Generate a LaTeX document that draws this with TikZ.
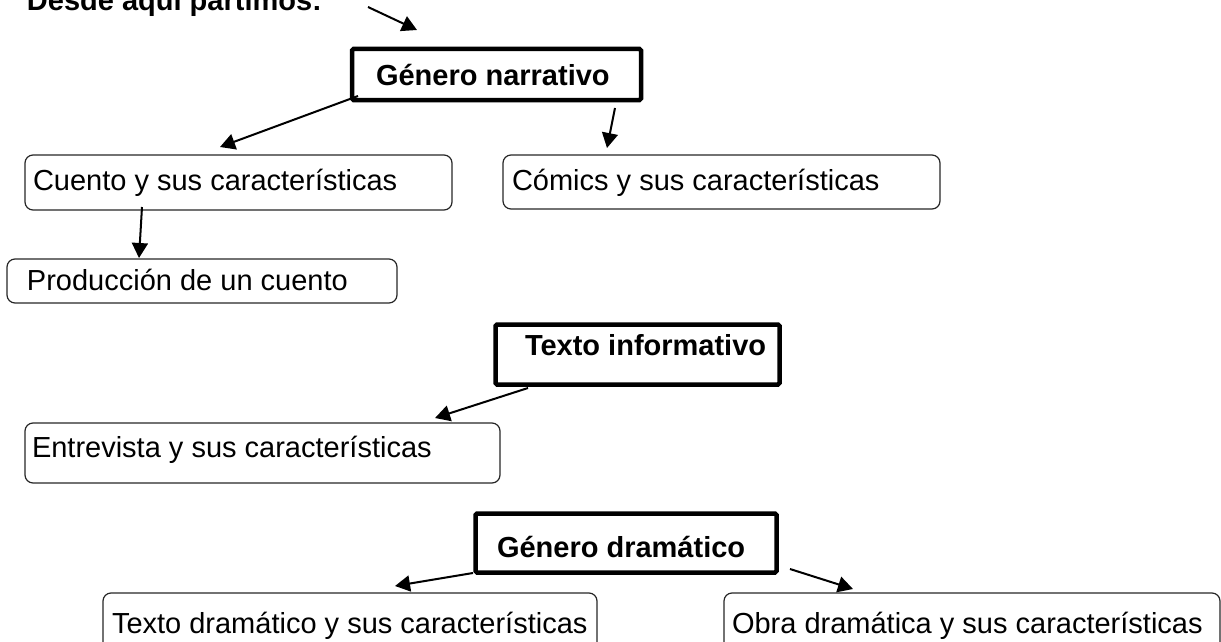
\documentclass[tikz,border=0pt]{standalone}
\usepackage{fontspec}
\setmainfont{Liberation Sans}
\usetikzlibrary{arrows.meta}
\begin{document}
\begin{tikzpicture}[x=1pt,y=-1pt,
  every node/.style={inner sep=0pt,outer sep=0pt},
  txt/.style={anchor=base west,font=\fontsize{29}{34}\selectfont},
  btxt/.style={anchor=base west,font=\fontsize{29}{34}\selectfont\bfseries},
  thickbox/.style={draw=black,line width=4.5pt,rounded corners=1.5pt,anchor=north west},
  thinbox/.style={draw=black!85,line width=1.2pt,rounded corners=8pt,anchor=north west},
  arr/.style={line width=2pt,-{Triangle[length=15pt,width=16pt]}}]
\useasboundingbox (0,0) rectangle (1221,642);
\clip (0,0) rectangle (1221,642);
% boxes
\node[thickbox,minimum width=289,minimum height=51] (gn) at (352,49) {};
\node[thickbox,minimum width=284,minimum height=60] (ti) at (495.5,324.5) {};
\node[thickbox,minimum width=301,minimum height=59] (gd) at (475.5,513.5) {};
\node[thinbox,minimum width=427,minimum height=55] (cu) at (25,155) {};
\node[thinbox,minimum width=437,minimum height=54] (co) at (503,155) {};
\node[thinbox,minimum width=390,minimum height=44] (pr) at (7,259) {};
\node[thinbox,minimum width=475,minimum height=60] (en) at (25,423) {};
\node[thinbox,minimum width=494,minimum height=70] (td) at (103,593) {};
\node[thinbox,minimum width=496,minimum height=70] (od) at (724,593) {};
% texts
\node[btxt] (t0) at (27,11) {Desde aquí partimos:};
\node[btxt] (tgn) at (376,85) {Género narrativo};
\node[txt] (tcu) at (33,190) {Cuento y sus características};
\node[txt] (tco) at (512,190) {Cómics y sus características};
\node[txt] (tpr) at (27,290) {Producción de un cuento};
\node[btxt] (tti) at (525,355) {Texto informativo};
\node[txt] (ten) at (32,457) {Entrevista y sus características};
\node[btxt] (tgd) at (497,557) {Género dramático};
\node[txt] (ttd) at (112,633) {Texto dramático y sus características};
\node[txt] (tod) at (732,633) {Obra dramática y sus características};
% arrow end points
\coordinate (s0) at (368,7);   \coordinate (e0) at (417,30);
\coordinate (s1) at (358,96);  \coordinate (e1) at (220,147);
\coordinate (s2) at (615,108); \coordinate (e2) at (607,148);
\coordinate (s3) at (142,207); \coordinate (e3) at (139,258);
\coordinate (s4) at (528,388); \coordinate (e4) at (435,418);
\coordinate (s5) at (473,573); \coordinate (e5) at (395,586);
\coordinate (s6) at (790,569); \coordinate (e6) at (853,589);
\draw[arr] (s0) -- (e0);
\draw[arr] (s1) -- (e1);
\draw[arr] (s2) -- (e2);
\draw[arr] (s3) -- (e3);
\draw[arr] (s4) -- (e4);
\draw[arr] (s5) -- (e5);
\draw[arr] (s6) -- (e6);
\end{tikzpicture}
\end{document}
